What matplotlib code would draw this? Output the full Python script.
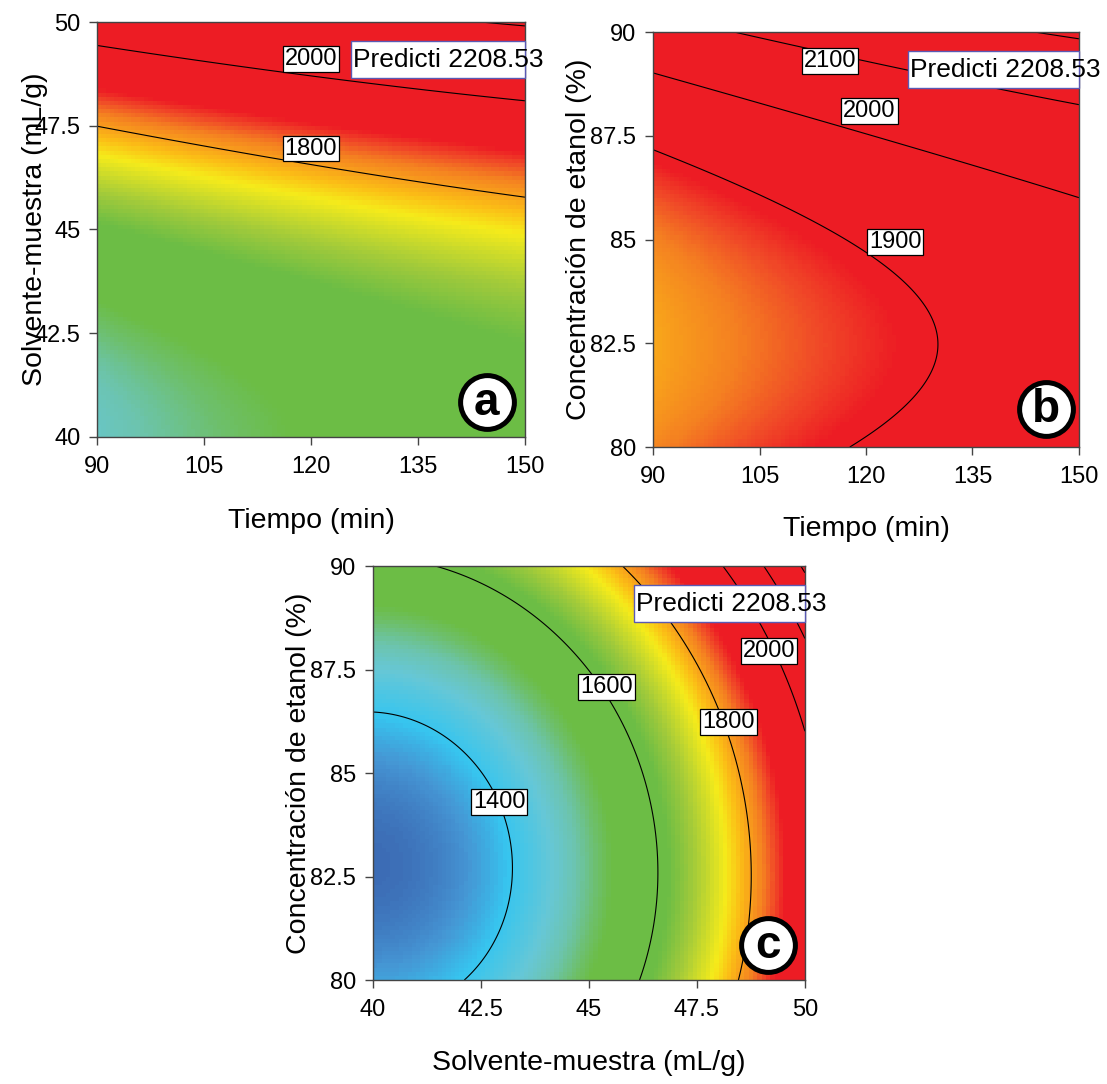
import numpy as np
import matplotlib.pyplot as plt
from matplotlib.colors import LinearSegmentedColormap, Normalize

plt.rcParams['font.family'] = ['Liberation Sans', 'DejaVu Sans']

# factor ranges (actual units)
tiempo = [90, 150]      # min
solvente = [40, 50]     # mL/g
etanol = [80, 90]       # %

# quadratic response model in coded units (A = tiempo, B = solvente, C = etanol)
intercept = 1455.0
linear = [69.0, 302.0, 113.25]       # A, B, C
interaction = [4.0, -0.5, 8.1]       # AB, AC, BC
quadratic = [-9.3, 150.0, 120.0]     # A^2, B^2, C^2
prediction = 2208.53

tiempo_ticks = [90, 105, 120, 135, 150]
solvente_ticks = [40, 42.5, 45, 47.5, 50]
etanol_ticks = [80, 82.5, 85, 87.5, 90]

levels_a = [1800, 2000, 2200]
levels_b = [1900, 2000, 2100, 2200]
levels_c = [1400, 1600, 1800, 2000, 2100, 2200]

# labelled contours: (level, x, y)
labels_a = [(2000, 120, 49.1), (1800, 120, 46.95)]
labels_b = [(2100, 114.9, 89.31), (2000, 120.5, 88.09), (1900, 124.1, 84.95)]
labels_c = [(1400, 42.92, 84.30), (1600, 45.41, 87.07), (1800, 48.23, 86.23), (2000, 49.17, 87.94)]

# colour scale (response value -> colour)
cmap_values = [1335, 1365, 1395, 1440, 1470, 1500, 1522, 1620, 1670, 1740, 1775, 1800, 1830,
               1860, 1888]
cmap_colors = ['#3c6cb5', '#4596d4', '#36c5ef', '#66c7d6', '#6cc4ae', '#6dbf6a', '#6cbd45',
               '#6cbd45', '#a2ca3a', '#f5eb1a', '#fbbd16', '#f8a01b', '#f47f21', '#f04a27',
               '#ed1c24']


def code(x, rng):
    mid = (rng[0] + rng[1]) / 2
    half = (rng[1] - rng[0]) / 2
    return (x - mid) / half


def model(A, B, C):
    return (intercept + linear[0] * A + linear[1] * B + linear[2] * C
            + interaction[0] * A * B + interaction[1] * A * C + interaction[2] * B * C
            + quadratic[0] * A ** 2 + quadratic[1] * B ** 2 + quadratic[2] * C ** 2)


vmin, vmax = cmap_values[0], cmap_values[-1]
norm = Normalize(vmin, vmax)
cmap = LinearSegmentedColormap.from_list(
    'de', [((v - vmin) / (vmax - vmin), c) for v, c in zip(cmap_values, cmap_colors)])


def draw_panel(ax, xr, yr, surface, levels, labels, xticks, yticks, xlabel, ylabel,
               letter, badge_xy, flag_x, xlab_y, ylab_x):
    # coloured surface on a coarse grid (blocky like the original)
    n = 100
    xe = np.linspace(xr[0], xr[1], n + 1)
    ye = np.linspace(yr[0], yr[1], n + 1)
    xc = (xe[:-1] + xe[1:]) / 2
    yc = (ye[:-1] + ye[1:]) / 2
    X, Y = np.meshgrid(xc, yc)
    ax.pcolormesh(xe, ye, surface(X, Y), cmap=cmap, norm=norm, shading='flat')

    # contour lines on a fine grid
    xf = np.linspace(xr[0], xr[1], 400)
    yf = np.linspace(yr[0], yr[1], 400)
    XF, YF = np.meshgrid(xf, yf)
    ax.contour(XF, YF, surface(XF, YF), levels=levels, colors='black', linewidths=0.8)

    for lev, lx, ly in labels:
        ax.text(lx, ly, str(lev), ha='center', va='center', fontsize=17, zorder=5,
                bbox=dict(boxstyle='square,pad=0.08', fc='white', ec='black', lw=0.9))

    # prediction flag box
    ax.add_patch(plt.Rectangle((flag_x, 0.865), 1 - flag_x, 0.09, transform=ax.transAxes,
                               fc='white', ec='#5a5ab4', lw=1, clip_on=False, zorder=6))
    ax.text(flag_x + 0.006, 0.908, 'Predicti %.2f' % prediction, transform=ax.transAxes,
            ha='left', va='center', fontsize=19, zorder=7, clip_on=False)

    # panel letter badge
    bx, by = badge_xy
    ax.scatter([bx], [by], s=1500, transform=ax.transAxes, fc='white', ec='black',
               linewidths=3.6, zorder=8, clip_on=False)
    ax.text(bx, by - 0.003, letter, transform=ax.transAxes, ha='center', va='center',
            fontsize=33, fontweight='bold', zorder=9)

    ax.set_xlim(xr)
    ax.set_ylim(yr)
    ax.set_xticks(xticks)
    ax.set_yticks(yticks)
    ax.set_xticklabels([('%g' % t) for t in xticks])
    ax.set_yticklabels([('%g' % t) for t in yticks])
    ax.tick_params(direction='out', length=6, width=1, labelsize=17, color='#444444')
    ax.tick_params(axis='x', pad=8)
    ax.tick_params(axis='y', pad=6)
    for sp in ax.spines.values():
        sp.set_linewidth(1)
        sp.set_color('#444444')
    ax.set_xlabel(xlabel, fontsize=20.5)
    ax.set_ylabel(ylabel, fontsize=20.5)
    ax.xaxis.set_label_coords(0.5, xlab_y)
    ax.yaxis.set_label_coords(ylab_x, 0.5)


fig = plt.figure(figsize=(11.07, 10.84), dpi=100)

ax_a = fig.add_axes([0.0876, 0.5969, 0.3866, 0.3828])
draw_panel(ax_a, tiempo, solvente,
           lambda x, y: model(code(x, tiempo), code(y, solvente), 1.0),
           levels_a, labels_a, tiempo_ticks, solvente_ticks,
           'Tiempo (min)', 'Solvente-muestra (mL/g)', 'a', (0.911, 0.085), 0.593,
           -0.17, -0.115)

ax_b = fig.add_axes([0.5899, 0.5876, 0.3848, 0.3828])
draw_panel(ax_b, tiempo, etanol,
           lambda x, y: model(code(x, tiempo), 1.0, code(y, etanol)),
           levels_b, labels_b, tiempo_ticks, etanol_ticks,
           'Tiempo (min)', 'Concentración de etanol (%)', 'b', (0.923, 0.092), 0.598,
           -0.165, -0.143)

ax_c = fig.add_axes([0.3369, 0.0959, 0.3902, 0.3819])
draw_panel(ax_c, solvente, etanol,
           lambda x, y: model(1.0, code(x, solvente), code(y, etanol)),
           levels_c, labels_c, solvente_ticks, etanol_ticks,
           'Solvente-muestra (mL/g)', 'Concentración de etanol (%)', 'c', (0.914, 0.085), 0.604,
           -0.17, -0.141)

fig.savefig('out.png', dpi=100, facecolor='white')
